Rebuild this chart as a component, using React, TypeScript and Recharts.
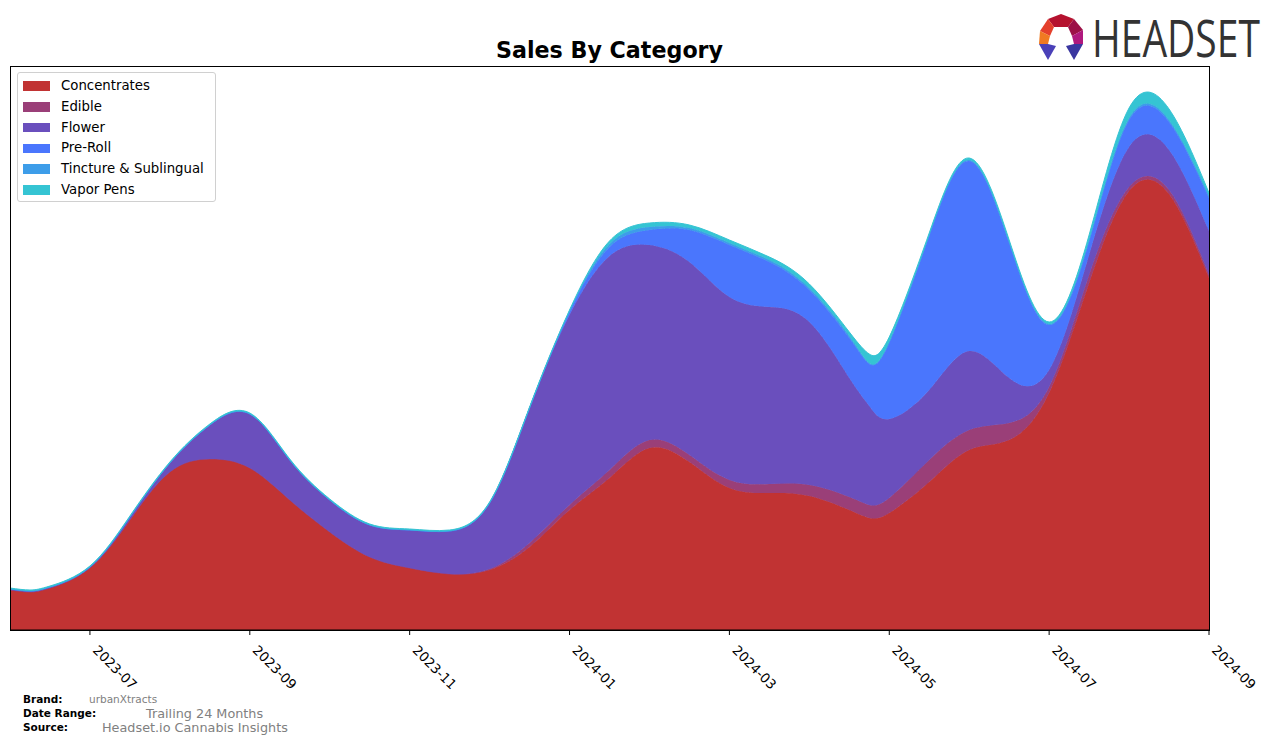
import React from 'react';
import { AreaChart, Area, XAxis, YAxis } from 'recharts';

// months since 2023-06 (half-month steps, one extra near the May dip)
const months = [0, 0.25, 0.5, 1, 1.5, 2, 2.5, 3, 3.5, 4, 4.5, 5, 5.5, 6, 6.5, 7, 7.5, 8, 8.5, 9, 9.5, 10, 10.5, 10.75, 11, 11.5, 12, 12.5, 13, 13.5, 14, 14.5, 15];

const concentrates = [40, 38, 42, 62, 110, 158, 171, 162, 130, 98, 73, 62, 56, 60, 83, 120, 152, 182, 168, 142, 137, 134, 120, 112, 117, 148, 180, 190, 237, 347, 439, 436, 352];
const edible = [0, 0, 0, 0, 0, 0, 0, 0, 0, 0, 0, 0, 0, 1, 4, 5, 8, 8, 7, 8, 9, 11, 13, 13, 15, 22, 20, 17, 6, 8, 4, 4, 3];
const flower = [1, 1, 1, 1, 3, 9, 34, 54, 40, 32, 32, 38, 43, 66, 135, 190, 214, 195, 193, 183, 177, 163, 119, 99, 79, 70, 79, 45, 17, 20, 40, 40, 44];
const preRoll = [0, 0, 0, 0, 0, 0, 0, 0, 0, 0, 0, 0, 0, 0, 0, 3, 9, 15, 32, 52, 45, 32, 40, 42, 76, 154, 190, 135, 45, 13, 27, 28, 33];
const tincture = [0, 0, 0, 0, 0, 0, 0, 0, 0, 0, 0, 0, 0, 0, 0, 1, 3, 3, 2, 2, 2, 2, 2, 1, 1, 1, 1, 1, 1, 2, 2, 2, 2];
const vapor = [1, 1, 1, 1, 1, 1, 1, 1, 1, 1, 1, 1, 1, 1, 1, 1, 3, 4, 3, 3, 3, 4, 4, 9, 5, 2, 2, 2, 2, 5, 10, 11, 3];

const tickMonths = [1, 3, 5, 7, 9, 11, 13, 15];
const tickLabels = ['2023-07', '2023-09', '2023-11', '2024-01', '2024-03', '2024-05', '2024-07', '2024-09'];

const series = [
  { key: 'Concentrates', values: concentrates, color: '#c13333' },
  { key: 'Edible', values: edible, color: '#9a3f78' },
  { key: 'Flower', values: flower, color: '#6a4fbd' },
  { key: 'Pre-Roll', values: preRoll, color: '#4a76fd' },
  { key: 'Tincture & Sublingual', values: tincture, color: '#3d9de9' },
  { key: 'Vapor Pens', values: vapor, color: '#35c4d3' },
];

const data = months.map((t, i) => {
  const row: any = { t };
  series.forEach(s => { row[s.key] = s.values[i]; });
  return row;
});

const FONT = 'DejaVu Sans, sans-serif';

function RotatedTick({ x, y, payload }: any) {
  const idx = tickMonths.indexOf(payload.value);
  const ax = x + 2;
  const ay = y + 14;
  return (
    <text x={ax} y={ay} transform={`rotate(45, ${ax}, ${ay})`} textAnchor="start"
      fontSize={13.3} fontFamily={FONT} fill="#000">
      {idx >= 0 ? tickLabels[idx] : ''}
    </text>
  );
}

function Logo() {
  return (
    <g>
      <polygon points="1048,19 1061,14 1074,19 1068,27 1054,27" fill="#b5122f" />
      <polygon points="1048,19 1054,27 1050,36 1040,31" fill="#e4402c" />
      <polygon points="1040,31 1050,36 1048,44 1039,44" fill="#f07a22" />
      <polygon points="1039,44 1048,44 1056,46 1048,60" fill="#4a40b8" />
      <polygon points="1074,19 1083,30 1072,36 1068,27" fill="#9c1047" />
      <polygon points="1083,30 1083,44 1074,44 1072,36" fill="#b0187e" />
      <polygon points="1083,44 1074,44 1066,46 1074,60" fill="#3a36a0" />
      <text transform="translate(1092,57) scale(0.75,1)" x={0} y={0} fontSize={52}
        fontFamily="Open Sans, sans-serif" fill="#333">HEADSET</text>
    </g>
  );
}

export default function App() {
  return (
    <div style={{ position: 'absolute', left: 0, top: 0, width: 1276, height: 743, background: '#fff' }}>
      <AreaChart width={1276} height={743} data={data}
        margin={{ top: 66, left: 10, right: 67, bottom: 53 }}>
        <XAxis dataKey="t" type="number" domain={[0, 15]} ticks={tickMonths} interval={0}
          height={60} tickSize={5} tickMargin={2} tick={<RotatedTick />}
          axisLine={{ stroke: '#000' }} tickLine={{ stroke: '#000' }} />
        <YAxis hide type="number" domain={[0, 564]} />
        {series.map(s => (
          <Area key={s.key} dataKey={s.key} name={s.key} stackId="1" type="natural"
            stroke={s.color} strokeWidth={1} fill={s.color} fillOpacity={1}
            dot={false} activeDot={false} isAnimationActive={false} />
        ))}
      </AreaChart>

      <svg width={1276} height={743} style={{ position: 'absolute', left: 0, top: 0, pointerEvents: 'none' }}>
        <rect x={10.5} y={66.5} width={1199} height={564} fill="none" stroke="#000" strokeWidth={1} />
        <text x={609.5} y={58} textAnchor="middle" fontSize={22.2} fontWeight="bold" fontFamily={FONT} fill="#000">
          Sales By Category
        </text>
        <Logo />
        <g fontFamily={FONT}>
          <text x={23} y={703} fontSize={10.5} fontWeight="bold" fill="#000">Brand:</text>
          <text x={89} y={703} fontSize={10.5} fill="#808080">urbanXtracts</text>
          <text x={23} y={717} fontSize={10.5} fontWeight="bold" fill="#000">Date Range:</text>
          <text x={146} y={718} fontSize={12.8} fill="#808080">Trailing 24 Months</text>
          <text x={23} y={731} fontSize={10.5} fontWeight="bold" fill="#000">Source:</text>
          <text x={102} y={732} fontSize={12.8} fill="#808080">Headset.io Cannabis Insights</text>
        </g>
      </svg>

      <div style={{
        position: 'absolute', left: 17, top: 72, width: 197, height: 128,
        border: '1px solid #d0d0d0', borderRadius: 3, background: 'rgba(255,255,255,0.8)',
        fontFamily: FONT, fontSize: 13.3, color: '#000',
      }}>
        {series.map((s, i) => (
          <div key={s.key} style={{ position: 'absolute', left: 0, top: 6 + i * 20.8, height: 14, display: 'flex', alignItems: 'center' }}>
            <div style={{ position: 'absolute', left: 5, width: 27, height: 9.5, background: s.color }} />
            <span style={{ position: 'absolute', left: 43, whiteSpace: 'nowrap', lineHeight: '14px' }}>{s.key}</span>
          </div>
        ))}
      </div>
    </div>
  );
}
